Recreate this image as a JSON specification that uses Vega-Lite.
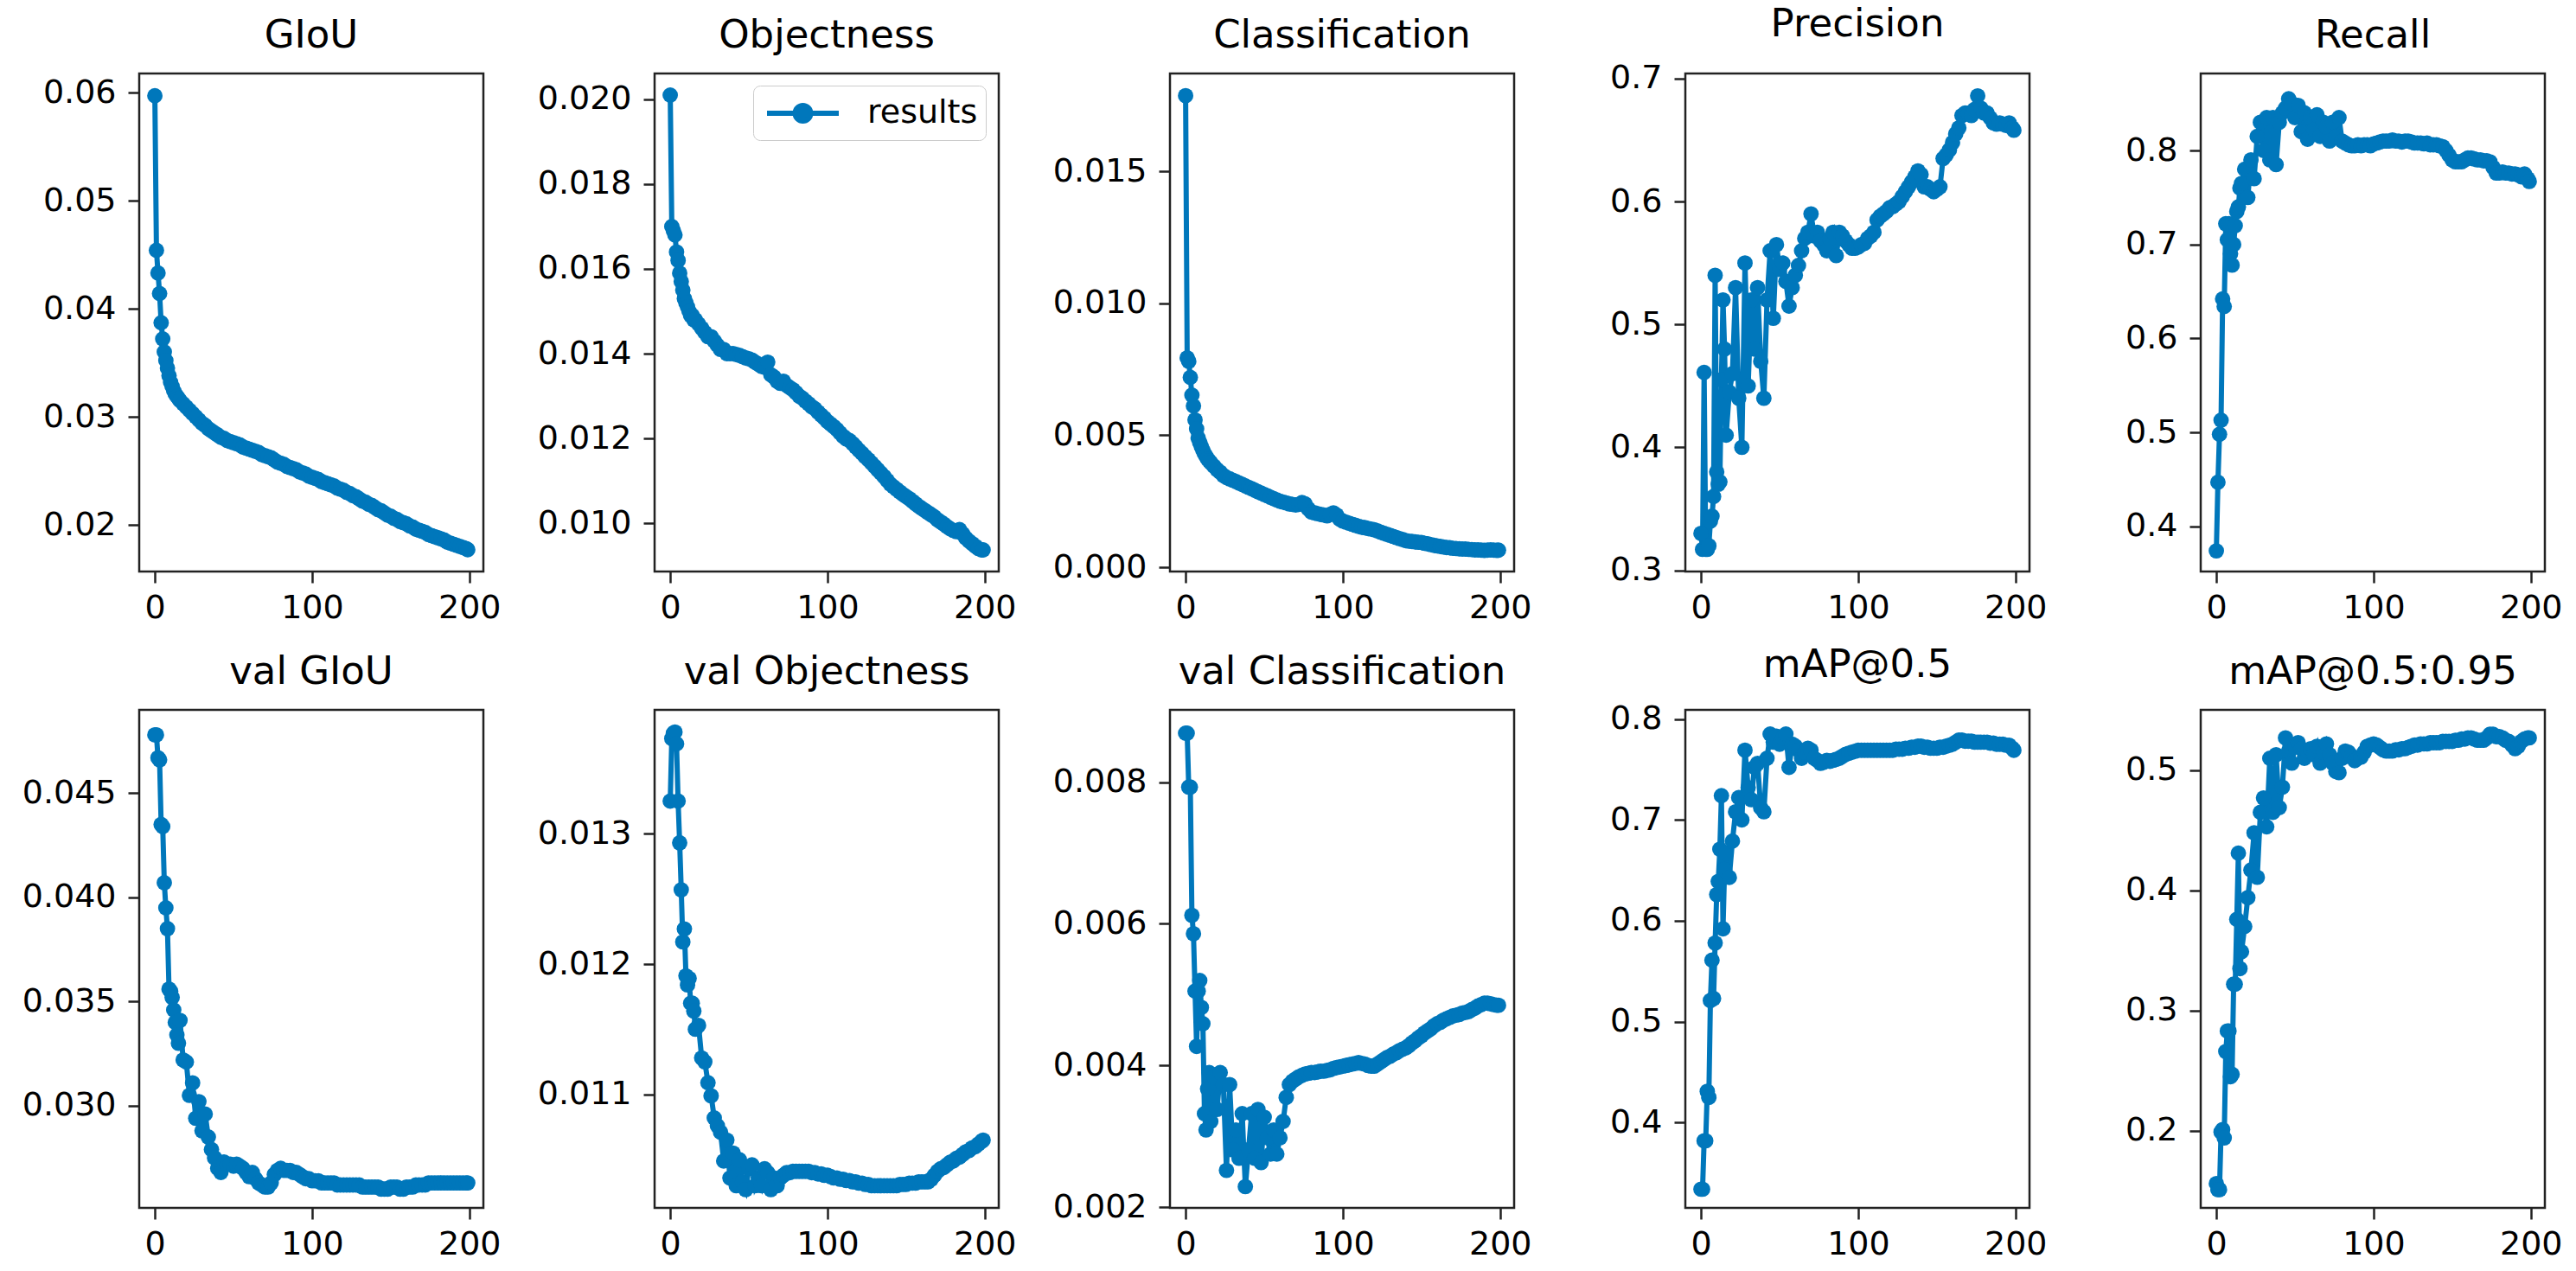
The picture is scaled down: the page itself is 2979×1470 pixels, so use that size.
{
"$schema":"https://vega.github.io/schema/vega-lite/v6.json",
"padding":{"left":23,"top":4,"right":10,"bottom":10},
"background":"white",
"data":{"values":[
{"e":0,"g":0.0597,"o":0.0201,"c":0.01786,"p":0.330,"r":0.374,"vg":0.0478,"vo":0.01325,"vc":0.00869,"m5":0.334,"m95":0.156},
{"e":1,"g":0.0454,"o":0.0170,"c":0.00793,"p":0.317,"r":0.447,"vg":0.0478,"vo":0.01373,"vc":0.00869,"m5":0.334,"m95":0.151},
{"e":2,"g":0.0433,"o":0.0169,"c":0.00780,"p":0.461,"r":0.498,"vg":0.0467,"vo":0.01377,"vc":0.00793,"m5":0.382,"m95":0.151},
{"e":3,"g":0.0414,"o":0.0168,"c":0.00719,"p":0.317,"r":0.513,"vg":0.0466,"vo":0.01378,"vc":0.00793,"m5":0.382,"m95":0.199},
{"e":4,"g":0.0387,"o":0.0164,"c":0.00652,"p":0.317,"r":0.642,"vg":0.0435,"vo":0.01369,"vc":0.00612,"m5":0.431,"m95":0.201},
{"e":5,"g":0.0372,"o":0.0162,"c":0.00611,"p":0.320,"r":0.634,"vg":0.0434,"vo":0.01325,"vc":0.00586,"m5":0.425,"m95":0.194},
{"e":6,"g":0.0360,"o":0.0159,"c":0.00558,"p":0.340,"r":0.722,"vg":0.0407,"vo":0.01293,"vc":0.00505,"m5":0.521,"m95":0.266},
{"e":7,"g":0.0352,"o":0.0157,"c":0.00524,"p":0.344,"r":0.705,"vg":0.0395,"vo":0.01257,"vc":0.00427,"m5":0.561,"m95":0.283},
{"e":8,"g":0.0345,"o":0.0155,"c":0.00490,"p":0.360,"r":0.722,"vg":0.0385,"vo":0.01217,"vc":0.00505,"m5":0.523,"m95":0.283},
{"e":9,"g":0.0338,"o":0.0153,"c":0.00472,"p":0.540,"r":0.690,"vg":0.0356,"vo":0.01227,"vc":0.00520,"m5":0.578,"m95":0.245},
{"e":10,"g":0.0332,"o":0.0152,"c":0.00457,"p":0.380,"r":0.678,"vg":0.0355,"vo":0.01191,"vc":0.00482,"m5":0.626,"m95":0.247},
{"e":11,"g":0.0328,"o":0.0151,"c":0.00443,"p":0.370,"r":0.700,"vg":0.0352,"vo":0.01184,"vc":0.00459,"m5":0.639,"m95":0.322},
{"e":12,"g":0.0324,"o":0.0150,"c":0.00430,"p":0.372,"r":0.720,"vg":0.0346,"vo":0.01189,"vc":0.00332,"m5":0.671,"m95":0.322},
{"e":13,"g":0.0321,"o":0.0149,"c":0.00420,"p":0.455,"r":0.735,"vg":0.0340,"vo":0.01170,"vc":0.00309,"m5":0.724,"m95":0.376},
{"e":14,"g":0.0319,"o":0.0149,"c":0.00410,"p":0.520,"r":0.740,"vg":0.0334,"vo":0.01170,"vc":0.00367,"m5":0.592,"m95":0.431},
{"e":15,"g":0.0317,"o":0.0148,"c":0.00403,"p":0.480,"r":0.760,"vg":0.0330,"vo":0.01164,"vc":0.00390,"m5":0.651,"m95":0.335},
{"e":16,"g":0.0315,"o":0.0148,"c":0.00396,"p":0.410,"r":0.765,"vg":0.0341,"vo":0.01150,"vc":0.00321,"m5":0.667,"m95":0.349},
{"e":18,"g":0.0312,"o":0.0147,"c":0.00383,"p":0.445,"r":0.780,"vg":0.0322,"vo":0.01153,"vc":0.00384,"m5":0.643,"m95":0.370},
{"e":20,"g":0.0309,"o":0.0146,"c":0.00370,"p":0.460,"r":0.750,"vg":0.0321,"vo":0.01128,"vc":0.00338,"m5":0.679,"m95":0.394},
{"e":22,"g":0.0306,"o":0.0145,"c":0.00360,"p":0.530,"r":0.790,"vg":0.0305,"vo":0.01125,"vc":0.00390,"m5":0.708,"m95":0.417},
{"e":24,"g":0.0303,"o":0.0144,"c":0.00348,"p":0.440,"r":0.770,"vg":0.0311,"vo":0.01109,"vc":0.00373,"m5":0.722,"m95":0.448},
{"e":26,"g":0.0300,"o":0.0144,"c":0.00340,"p":0.400,"r":0.815,"vg":0.0294,"vo":0.01099,"vc":0.00252,"m5":0.700,"m95":0.411},
{"e":28,"g":0.0297,"o":0.0143,"c":0.00335,"p":0.550,"r":0.830,"vg":0.0302,"vo":0.01082,"vc":0.00373,"m5":0.769,"m95":0.465},
{"e":30,"g":0.0294,"o":0.0142,"c":0.00330,"p":0.450,"r":0.800,"vg":0.0288,"vo":0.01076,"vc":0.00281,"m5":0.732,"m95":0.477},
{"e":32,"g":0.0292,"o":0.0141,"c":0.00325,"p":0.520,"r":0.835,"vg":0.0296,"vo":0.01071,"vc":0.00309,"m5":0.720,"m95":0.453},
{"e":34,"g":0.0289,"o":0.0141,"c":0.00319,"p":0.480,"r":0.790,"vg":0.0285,"vo":0.01049,"vc":0.00269,"m5":0.752,"m95":0.510},
{"e":36,"g":0.0287,"o":0.0140,"c":0.00314,"p":0.530,"r":0.835,"vg":0.0279,"vo":0.01065,"vc":0.00332,"m5":0.756,"m95":0.465},
{"e":38,"g":0.0285,"o":0.0140,"c":0.00308,"p":0.470,"r":0.785,"vg":0.0275,"vo":0.01036,"vc":0.00229,"m5":0.712,"m95":0.513},
{"e":40,"g":0.0283,"o":0.01400,"c":0.00303,"p":0.440,"r":0.830,"vg":0.0270,"vo":0.01055,"vc":0.00281,"m5":0.708,"m95":0.469},
{"e":42,"g":0.0281,"o":0.01398,"c":0.00298,"p":0.520,"r":0.840,"vg":0.0268,"vo":0.01030,"vc":0.00332,"m5":0.761,"m95":0.486},
{"e":44,"g":0.0280,"o":0.01396,"c":0.00292,"p":0.560,"r":0.845,"vg":0.0273,"vo":0.01050,"vc":0.00269,"m5":0.785,"m95":0.527},
{"e":46,"g":0.0278,"o":0.01393,"c":0.00286,"p":0.505,"r":0.855,"vg":0.0272,"vo":0.01033,"vc":0.00338,"m5":0.777,"m95":0.516},
{"e":48,"g":0.0277,"o":0.01390,"c":0.00281,"p":0.565,"r":0.850,"vg":0.0272,"vo":0.01027,"vc":0.00263,"m5":0.783,"m95":0.506},
{"e":50,"g":0.0276,"o":0.01388,"c":0.00276,"p":0.545,"r":0.835,"vg":0.0271,"vo":0.01043,"vc":0.00327,"m5":0.775,"m95":0.520},
{"e":52,"g":0.0275,"o":0.01385,"c":0.00271,"p":0.550,"r":0.848,"vg":0.0272,"vo":0.01046,"vc":0.00298,"m5":0.781,"m95":0.523},
{"e":54,"g":0.0274,"o":0.01380,"c":0.00265,"p":0.535,"r":0.820,"vg":0.0271,"vo":0.01030,"vc":0.00275,"m5":0.785,"m95":0.518},
{"e":56,"g":0.0272,"o":0.01375,"c":0.00260,"p":0.515,"r":0.840,"vg":0.0270,"vo":0.01036,"vc":0.00309,"m5":0.752,"m95":0.510},
{"e":58,"g":0.0271,"o":0.01370,"c":0.00255,"p":0.530,"r":0.812,"vg":0.0268,"vo":0.01030,"vc":0.00275,"m5":0.775,"m95":0.516},
{"e":60,"g":0.0270,"o":0.01368,"c":0.00250,"p":0.540,"r":0.835,"vg":0.0266,"vo":0.01043,"vc":0.00298,"m5":0.773,"m95":0.518},
{"e":62,"g":0.0269,"o":0.01380,"c":0.00247,"p":0.548,"r":0.822,"vg":0.0268,"vo":0.01040,"vc":0.00321,"m5":0.769,"m95":0.513},
{"e":64,"g":0.0268,"o":0.01350,"c":0.00244,"p":0.560,"r":0.838,"vg":0.0265,"vo":0.01027,"vc":0.00355,"m5":0.761,"m95":0.520},
{"e":66,"g":0.0267,"o":0.01345,"c":0.00240,"p":0.570,"r":0.815,"vg":0.0263,"vo":0.01036,"vc":0.00373,"m5":0.767,"m95":0.506},
{"e":68,"g":0.0265,"o":0.01335,"c":0.00238,"p":0.575,"r":0.830,"vg":0.0262,"vo":0.01030,"vc":0.00378,"m5":0.771,"m95":0.515},
{"e":70,"g":0.0264,"o":0.01330,"c":0.00236,"p":0.590,"r":0.825,"vg":0.0261,"vo":0.01036,"vc":0.00381,"m5":0.769,"m95":0.522},
{"e":72,"g":0.0263,"o":0.01335,"c":0.00238,"p":0.572,"r":0.810,"vg":0.0261,"vo":0.01038,"vc":0.00384,"m5":0.761,"m95":0.513},
{"e":74,"g":0.0262,"o":0.01325,"c":0.00245,"p":0.575,"r":0.830,"vg":0.0263,"vo":0.01040,"vc":0.00386,"m5":0.759,"m95":0.506},
{"e":76,"g":0.0260,"o":0.01320,"c":0.00240,"p":0.568,"r":0.815,"vg":0.0267,"vo":0.01040,"vc":0.00388,"m5":0.756,"m95":0.499},
{"e":78,"g":0.0258,"o":0.01315,"c":0.00222,"p":0.565,"r":0.835,"vg":0.0269,"vo":0.01041,"vc":0.00389,"m5":0.757,"m95":0.498},
{"e":80,"g":0.0257,"o":0.01308,"c":0.00209,"p":0.560,"r":0.810,"vg":0.0270,"vo":0.01041,"vc":0.00390,"m5":0.759,"m95":0.510},
{"e":82,"g":0.0256,"o":0.01300,"c":0.00206,"p":0.570,"r":0.808,"vg":0.0269,"vo":0.01041,"vc":0.00390,"m5":0.758,"m95":0.516},
{"e":84,"g":0.0254,"o":0.01295,"c":0.00203,"p":0.575,"r":0.806,"vg":0.0269,"vo":0.01041,"vc":0.00391,"m5":0.759,"m95":0.515},
{"e":86,"g":0.0253,"o":0.01288,"c":0.00200,"p":0.556,"r":0.805,"vg":0.0269,"vo":0.01041,"vc":0.00392,"m5":0.760,"m95":0.512},
{"e":88,"g":0.0252,"o":0.01282,"c":0.00198,"p":0.575,"r":0.805,"vg":0.0268,"vo":0.01041,"vc":0.00392,"m5":0.761,"m95":0.508},
{"e":90,"g":0.0251,"o":0.01275,"c":0.00195,"p":0.572,"r":0.806,"vg":0.0268,"vo":0.01040,"vc":0.00393,"m5":0.763,"m95":0.510},
{"e":92,"g":0.0249,"o":0.01270,"c":0.00200,"p":0.568,"r":0.805,"vg":0.0267,"vo":0.01040,"vc":0.00394,"m5":0.765,"m95":0.511},
{"e":94,"g":0.0248,"o":0.01262,"c":0.00206,"p":0.565,"r":0.806,"vg":0.0266,"vo":0.01039,"vc":0.00396,"m5":0.766,"m95":0.515},
{"e":96,"g":0.0247,"o":0.01255,"c":0.00198,"p":0.562,"r":0.806,"vg":0.0265,"vo":0.01039,"vc":0.00397,"m5":0.767,"m95":0.520},
{"e":98,"g":0.0245,"o":0.01248,"c":0.00182,"p":0.562,"r":0.805,"vg":0.0265,"vo":0.01038,"vc":0.00398,"m5":0.768,"m95":0.521},
{"e":100,"g":0.0244,"o":0.01240,"c":0.00175,"p":0.563,"r":0.807,"vg":0.0264,"vo":0.01038,"vc":0.00399,"m5":0.769,"m95":0.522},
{"e":102,"g":0.0243,"o":0.01234,"c":0.00171,"p":0.565,"r":0.808,"vg":0.0264,"vo":0.01037,"vc":0.00400,"m5":0.769,"m95":0.521},
{"e":104,"g":0.0242,"o":0.01228,"c":0.00167,"p":0.566,"r":0.809,"vg":0.0264,"vo":0.01036,"vc":0.00401,"m5":0.769,"m95":0.519},
{"e":106,"g":0.0240,"o":0.01221,"c":0.00163,"p":0.570,"r":0.810,"vg":0.0263,"vo":0.01036,"vc":0.00402,"m5":0.769,"m95":0.517},
{"e":108,"g":0.0239,"o":0.01213,"c":0.00159,"p":0.572,"r":0.810,"vg":0.0263,"vo":0.01035,"vc":0.00403,"m5":0.769,"m95":0.516},
{"e":110,"g":0.0238,"o":0.01205,"c":0.00155,"p":0.575,"r":0.810,"vg":0.0263,"vo":0.01035,"vc":0.00404,"m5":0.769,"m95":0.516},
{"e":112,"g":0.0237,"o":0.01199,"c":0.00152,"p":0.585,"r":0.811,"vg":0.0263,"vo":0.01034,"vc":0.00403,"m5":0.769,"m95":0.516},
{"e":114,"g":0.0236,"o":0.01195,"c":0.00150,"p":0.588,"r":0.810,"vg":0.0263,"vo":0.01034,"vc":0.00402,"m5":0.769,"m95":0.517},
{"e":116,"g":0.0234,"o":0.01188,"c":0.00147,"p":0.590,"r":0.810,"vg":0.0262,"vo":0.01033,"vc":0.00400,"m5":0.769,"m95":0.517},
{"e":118,"g":0.0233,"o":0.01180,"c":0.00145,"p":0.592,"r":0.809,"vg":0.0262,"vo":0.01033,"vc":0.00399,"m5":0.769,"m95":0.518},
{"e":120,"g":0.0232,"o":0.01172,"c":0.00142,"p":0.595,"r":0.810,"vg":0.0262,"vo":0.01032,"vc":0.00399,"m5":0.769,"m95":0.518},
{"e":122,"g":0.0230,"o":0.01165,"c":0.00138,"p":0.596,"r":0.810,"vg":0.0262,"vo":0.01032,"vc":0.00402,"m5":0.769,"m95":0.519},
{"e":124,"g":0.0229,"o":0.01157,"c":0.00133,"p":0.598,"r":0.809,"vg":0.0262,"vo":0.01031,"vc":0.00405,"m5":0.770,"m95":0.520},
{"e":126,"g":0.0227,"o":0.01150,"c":0.00129,"p":0.600,"r":0.808,"vg":0.0262,"vo":0.01031,"vc":0.00408,"m5":0.770,"m95":0.521},
{"e":128,"g":0.0226,"o":0.01142,"c":0.00125,"p":0.604,"r":0.808,"vg":0.0262,"vo":0.01030,"vc":0.00411,"m5":0.770,"m95":0.521},
{"e":130,"g":0.0224,"o":0.01134,"c":0.00121,"p":0.608,"r":0.808,"vg":0.0262,"vo":0.01030,"vc":0.00413,"m5":0.771,"m95":0.522},
{"e":132,"g":0.0222,"o":0.01126,"c":0.00117,"p":0.612,"r":0.807,"vg":0.0261,"vo":0.01030,"vc":0.00416,"m5":0.771,"m95":0.522},
{"e":134,"g":0.0221,"o":0.01118,"c":0.00113,"p":0.616,"r":0.808,"vg":0.0261,"vo":0.01030,"vc":0.00418,"m5":0.772,"m95":0.522},
{"e":136,"g":0.0219,"o":0.01110,"c":0.00109,"p":0.620,"r":0.806,"vg":0.0261,"vo":0.01030,"vc":0.00421,"m5":0.772,"m95":0.523},
{"e":138,"g":0.0218,"o":0.01101,"c":0.00105,"p":0.625,"r":0.806,"vg":0.0261,"vo":0.01030,"vc":0.00423,"m5":0.773,"m95":0.523},
{"e":140,"g":0.0216,"o":0.01092,"c":0.00101,"p":0.622,"r":0.806,"vg":0.0261,"vo":0.01030,"vc":0.00425,"m5":0.773,"m95":0.523},
{"e":142,"g":0.0214,"o":0.01086,"c":0.00099,"p":0.612,"r":0.805,"vg":0.0261,"vo":0.01030,"vc":0.00428,"m5":0.772,"m95":0.523},
{"e":144,"g":0.0213,"o":0.01080,"c":0.00098,"p":0.612,"r":0.804,"vg":0.0260,"vo":0.01030,"vc":0.00432,"m5":0.772,"m95":0.524},
{"e":146,"g":0.0211,"o":0.01074,"c":0.00096,"p":0.610,"r":0.800,"vg":0.0260,"vo":0.01031,"vc":0.00435,"m5":0.771,"m95":0.524},
{"e":148,"g":0.0209,"o":0.01068,"c":0.00095,"p":0.608,"r":0.795,"vg":0.0260,"vo":0.01031,"vc":0.00439,"m5":0.771,"m95":0.524},
{"e":150,"g":0.0208,"o":0.01063,"c":0.00094,"p":0.610,"r":0.790,"vg":0.0261,"vo":0.01031,"vc":0.00442,"m5":0.771,"m95":0.524},
{"e":152,"g":0.0206,"o":0.01058,"c":0.00091,"p":0.612,"r":0.788,"vg":0.0261,"vo":0.01032,"vc":0.00446,"m5":0.772,"m95":0.525},
{"e":154,"g":0.0205,"o":0.01052,"c":0.00089,"p":0.635,"r":0.788,"vg":0.0261,"vo":0.01032,"vc":0.00449,"m5":0.772,"m95":0.525},
{"e":156,"g":0.0203,"o":0.01046,"c":0.00086,"p":0.638,"r":0.788,"vg":0.0260,"vo":0.01032,"vc":0.00452,"m5":0.773,"m95":0.526},
{"e":158,"g":0.0202,"o":0.01040,"c":0.00083,"p":0.642,"r":0.790,"vg":0.0260,"vo":0.01033,"vc":0.00456,"m5":0.774,"m95":0.526},
{"e":160,"g":0.0201,"o":0.01035,"c":0.00081,"p":0.648,"r":0.792,"vg":0.0261,"vo":0.01033,"vc":0.00459,"m5":0.775,"m95":0.527},
{"e":162,"g":0.0199,"o":0.01030,"c":0.00079,"p":0.655,"r":0.792,"vg":0.0261,"vo":0.01033,"vc":0.00461,"m5":0.777,"m95":0.527},
{"e":164,"g":0.0198,"o":0.01025,"c":0.00077,"p":0.660,"r":0.791,"vg":0.0261,"vo":0.01033,"vc":0.00464,"m5":0.779,"m95":0.526},
{"e":166,"g":0.0196,"o":0.01020,"c":0.00075,"p":0.670,"r":0.790,"vg":0.0262,"vo":0.01035,"vc":0.00466,"m5":0.779,"m95":0.525},
{"e":168,"g":0.0195,"o":0.01015,"c":0.00074,"p":0.672,"r":0.790,"vg":0.0262,"vo":0.01038,"vc":0.00468,"m5":0.778,"m95":0.525},
{"e":170,"g":0.0194,"o":0.01008,"c":0.00072,"p":0.672,"r":0.789,"vg":0.0262,"vo":0.01041,"vc":0.00470,"m5":0.778,"m95":0.525},
{"e":172,"g":0.0193,"o":0.01003,"c":0.00071,"p":0.670,"r":0.789,"vg":0.0262,"vo":0.01043,"vc":0.00471,"m5":0.778,"m95":0.527},
{"e":174,"g":0.0191,"o":0.00998,"c":0.00070,"p":0.675,"r":0.788,"vg":0.0263,"vo":0.01044,"vc":0.00472,"m5":0.777,"m95":0.530},
{"e":176,"g":0.0190,"o":0.00992,"c":0.00069,"p":0.686,"r":0.782,"vg":0.0263,"vo":0.01046,"vc":0.00474,"m5":0.777,"m95":0.530},
{"e":178,"g":0.0189,"o":0.00987,"c":0.00069,"p":0.676,"r":0.776,"vg":0.0263,"vo":0.01048,"vc":0.00475,"m5":0.777,"m95":0.528},
{"e":180,"g":0.0188,"o":0.00983,"c":0.00068,"p":0.672,"r":0.776,"vg":0.0263,"vo":0.01049,"vc":0.00476,"m5":0.777,"m95":0.528},
{"e":182,"g":0.0187,"o":0.00980,"c":0.00067,"p":0.672,"r":0.777,"vg":0.0263,"vo":0.01051,"vc":0.00479,"m5":0.777,"m95":0.527},
{"e":184,"g":0.0186,"o":0.00985,"c":0.00066,"p":0.668,"r":0.776,"vg":0.0263,"vo":0.01052,"vc":0.00481,"m5":0.776,"m95":0.525},
{"e":186,"g":0.0184,"o":0.00975,"c":0.00066,"p":0.664,"r":0.776,"vg":0.0263,"vo":0.01054,"vc":0.00484,"m5":0.776,"m95":0.524},
{"e":188,"g":0.0183,"o":0.00965,"c":0.00065,"p":0.663,"r":0.775,"vg":0.0263,"vo":0.01056,"vc":0.00486,"m5":0.775,"m95":0.521},
{"e":190,"g":0.0182,"o":0.00958,"c":0.00064,"p":0.664,"r":0.775,"vg":0.0263,"vo":0.01057,"vc":0.00488,"m5":0.775,"m95":0.518},
{"e":192,"g":0.0181,"o":0.00952,"c":0.00065,"p":0.663,"r":0.774,"vg":0.0263,"vo":0.01059,"vc":0.00488,"m5":0.775,"m95":0.520},
{"e":194,"g":0.0180,"o":0.00946,"c":0.00066,"p":0.662,"r":0.772,"vg":0.0263,"vo":0.01060,"vc":0.00487,"m5":0.774,"m95":0.524},
{"e":196,"g":0.0179,"o":0.00940,"c":0.00065,"p":0.664,"r":0.775,"vg":0.0263,"vo":0.01062,"vc":0.00486,"m5":0.774,"m95":0.526},
{"e":198,"g":0.0178,"o":0.00937,"c":0.00064,"p":0.660,"r":0.770,"vg":0.0263,"vo":0.01064,"vc":0.00485,"m5":0.771,"m95":0.527},
{"e":199,"g":0.0177,"o":0.00937,"c":0.00065,"p":0.658,"r":0.767,"vg":0.0263,"vo":0.01065,"vc":0.00485,"m5":0.769,"m95":0.527}
]},
"columns":5,
"bounds":"flush",
"spacing":{"row":160,"column":198},
"concat":[
{"title":"GIoU","width":398,"height":576,
 "mark":{"type":"line","color":"#0077bb","strokeWidth":6,"point":{"filled":true,"size":320,"color":"#0077bb","opacity":1}},
 "encoding":{
  "x":{"field":"e","type":"quantitative","title":null,"scale":{"domain":[-9.95,208.95],"nice":false,"zero":false},"axis":{"values":[0,100,200],"labelPadding":10}},
  "y":{"field":"g","type":"quantitative","title":null,"scale":{"domain":[0.01568,0.06176],"nice":false,"zero":false},"axis":{"values":[0.02,0.03,0.04,0.05,0.06],"format":".2f"}}}},
{"title":"Objectness","width":398,"height":576,
 "mark":{"type":"line","color":"#0077bb","strokeWidth":6,"point":{"filled":true,"size":320,"color":"#0077bb","opacity":1}},
 "encoding":{
  "x":{"field":"e","type":"quantitative","title":null,"scale":{"domain":[-9.95,208.95],"nice":false,"zero":false},"axis":{"values":[0,100,200],"labelPadding":10}},
  "y":{"field":"o","type":"quantitative","title":null,"scale":{"domain":[0.00886,0.02061],"nice":false,"zero":false},"axis":{"values":[0.010,0.012,0.014,0.016,0.018,0.020],"format":".3f"}},
  "color":{"datum":"results","type":"nominal","scale":{"range":["#0077bb"]},
   "legend":{"title":null,"orient":"none","legendX":710,"legendY":14,"padding":9,"strokeColor":"#cccccc","fillColor":"white","cornerRadius":8,
    "labelFontSize":38,"labelFont":"DejaVu Sans","labelColor":"#000000","labelOffset":77,
    "symbolType":"M-0.8,0L3.35,0M0.825,0A0.45,0.45 0 1,0 1.725,0A0.45,0.45 0 1,0 0.825,0Z","symbolSize":1600,"symbolStrokeWidth":6,"symbolFillColor":"#0077bb","symbolStrokeColor":"#0077bb","symbolOpacity":1}}}},
{"title":"Classification","width":398,"height":576,
 "mark":{"type":"line","color":"#0077bb","strokeWidth":6,"point":{"filled":true,"size":320,"color":"#0077bb","opacity":1}},
 "encoding":{
  "x":{"field":"e","type":"quantitative","title":null,"scale":{"domain":[-9.95,208.95],"nice":false,"zero":false},"axis":{"values":[0,100,200],"labelPadding":10}},
  "y":{"field":"c","type":"quantitative","title":null,"scale":{"domain":[-0.00016,0.0187],"nice":false,"zero":false},"axis":{"values":[0,0.005,0.010,0.015],"format":".3f"}}}},
{"title":"Precision","width":398,"height":576,
 "mark":{"type":"line","color":"#0077bb","strokeWidth":6,"point":{"filled":true,"size":320,"color":"#0077bb","opacity":1}},
 "encoding":{
  "x":{"field":"e","type":"quantitative","title":null,"scale":{"domain":[-9.95,208.95],"nice":false,"zero":false},"axis":{"values":[0,100,200],"labelPadding":10}},
  "y":{"field":"p","type":"quantitative","title":null,"scale":{"domain":[0.299,0.7042],"nice":false,"zero":false},"axis":{"values":[0.3,0.4,0.5,0.6,0.7],"format":".1f"}}}},
{"title":"Recall","width":398,"height":576,
 "mark":{"type":"line","color":"#0077bb","strokeWidth":6,"point":{"filled":true,"size":320,"color":"#0077bb","opacity":1}},
 "encoding":{
  "x":{"field":"e","type":"quantitative","title":null,"scale":{"domain":[-9.95,208.95],"nice":false,"zero":false},"axis":{"values":[0,100,200],"labelPadding":10}},
  "y":{"field":"r","type":"quantitative","title":null,"scale":{"domain":[0.352,0.8819],"nice":false,"zero":false},"axis":{"values":[0.4,0.5,0.6,0.7,0.8],"format":".1f"}}}},
{"title":"val GIoU","width":398,"height":576,
 "mark":{"type":"line","color":"#0077bb","strokeWidth":6,"point":{"filled":true,"size":320,"color":"#0077bb","opacity":1}},
 "encoding":{
  "x":{"field":"e","type":"quantitative","title":null,"scale":{"domain":[-9.95,208.95],"nice":false,"zero":false},"axis":{"values":[0,100,200],"labelPadding":10}},
  "y":{"field":"vg","type":"quantitative","title":null,"scale":{"domain":[0.0251,0.0490],"nice":false,"zero":false},"axis":{"values":[0.030,0.035,0.040,0.045],"format":".3f"}}}},
{"title":"val Objectness","width":398,"height":576,
 "mark":{"type":"line","color":"#0077bb","strokeWidth":6,"point":{"filled":true,"size":320,"color":"#0077bb","opacity":1}},
 "encoding":{
  "x":{"field":"e","type":"quantitative","title":null,"scale":{"domain":[-9.95,208.95],"nice":false,"zero":false},"axis":{"values":[0,100,200],"labelPadding":10}},
  "y":{"field":"vo","type":"quantitative","title":null,"scale":{"domain":[0.01013,0.01395],"nice":false,"zero":false},"axis":{"values":[0.011,0.012,0.013],"format":".3f"}}}},
{"title":"val Classification","width":398,"height":576,
 "mark":{"type":"line","color":"#0077bb","strokeWidth":6,"point":{"filled":true,"size":320,"color":"#0077bb","opacity":1}},
 "encoding":{
  "x":{"field":"e","type":"quantitative","title":null,"scale":{"domain":[-9.95,208.95],"nice":false,"zero":false},"axis":{"values":[0,100,200],"labelPadding":10}},
  "y":{"field":"vc","type":"quantitative","title":null,"scale":{"domain":[0.00199,0.00902],"nice":false,"zero":false},"axis":{"values":[0.002,0.004,0.006,0.008],"format":".3f"}}}},
{"title":"mAP@0.5","width":398,"height":576,
 "mark":{"type":"line","color":"#0077bb","strokeWidth":6,"point":{"filled":true,"size":320,"color":"#0077bb","opacity":1}},
 "encoding":{
  "x":{"field":"e","type":"quantitative","title":null,"scale":{"domain":[-9.95,208.95],"nice":false,"zero":false},"axis":{"values":[0,100,200],"labelPadding":10}},
  "y":{"field":"m5","type":"quantitative","title":null,"scale":{"domain":[0.3155,0.809],"nice":false,"zero":false},"axis":{"values":[0.4,0.5,0.6,0.7,0.8],"format":".1f"}}}},
{"title":"mAP@0.5:0.95","width":398,"height":576,
 "mark":{"type":"line","color":"#0077bb","strokeWidth":6,"point":{"filled":true,"size":320,"color":"#0077bb","opacity":1}},
 "encoding":{
  "x":{"field":"e","type":"quantitative","title":null,"scale":{"domain":[-9.95,208.95],"nice":false,"zero":false},"axis":{"values":[0,100,200],"labelPadding":10}},
  "y":{"field":"m95","type":"quantitative","title":null,"scale":{"domain":[0.1358,0.5503],"nice":false,"zero":false},"axis":{"values":[0.2,0.3,0.4,0.5],"format":".1f"}}}}
],
"config":{
 "font":"DejaVu Sans",
 "view":{"stroke":"#222222","strokeWidth":2.5},
 "axis":{"grid":false,"domain":false,"ticks":true,"tickSize":13,"tickWidth":2.5,"tickColor":"#222222","labelFontSize":38,"labelFont":"DejaVu Sans","labelColor":"#000000","labelPadding":14,"labelOverlap":false,"labelFlush":false,"labelBound":false},
 "title":{"fontSize":45,"font":"DejaVu Sans","fontWeight":"normal","color":"#000000","offset":21,"frame":"group","baseline":"alphabetic","anchor":"middle"}
}
}
